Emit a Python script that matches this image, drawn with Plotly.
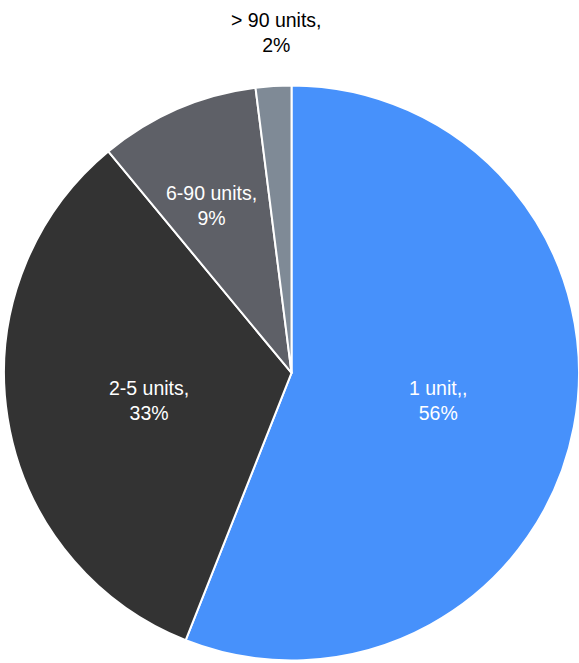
import plotly.graph_objects as go

labels = ["1 unit,", "2-5 units", "6-90 units", "> 90 units"]
values = [56, 33, 9, 2]
colors = ["#4791FB", "#333333", "#5E6067", "#7F8A96"]
text_colors = ["white", "white", "white", "black"]
# label anchor positions (paper coords)
label_pos = [(0.757, 0.396), (0.257, 0.396), (0.366, 0.690), (0.477, 0.951)]

fig = go.Figure(go.Pie(
    labels=labels, values=values, sort=False, direction="clockwise", rotation=0,
    marker=dict(colors=colors, line=dict(color="white", width=2)),
    textinfo="none", hoverinfo="label+percent",
    domain=dict(x=[0.007, 1.0], y=[0.0, 0.875]),
    showlegend=False,
))

for lab, v, c, (x, y) in zip(labels, values, text_colors, label_pos):
    fig.add_annotation(x=x, y=y, xref="paper", yref="paper", showarrow=False,
                       xanchor="center", yanchor="middle",
                       text=f"{lab},<br>{v}%", font=dict(color=c, size=19.5,
                       family="Liberation Sans, Arial, sans-serif"))

fig.update_layout(width=579, height=663, margin=dict(l=0, r=0, t=0, b=0),
                  paper_bgcolor="white", plot_bgcolor="white")
fig.write_html("out.html")
